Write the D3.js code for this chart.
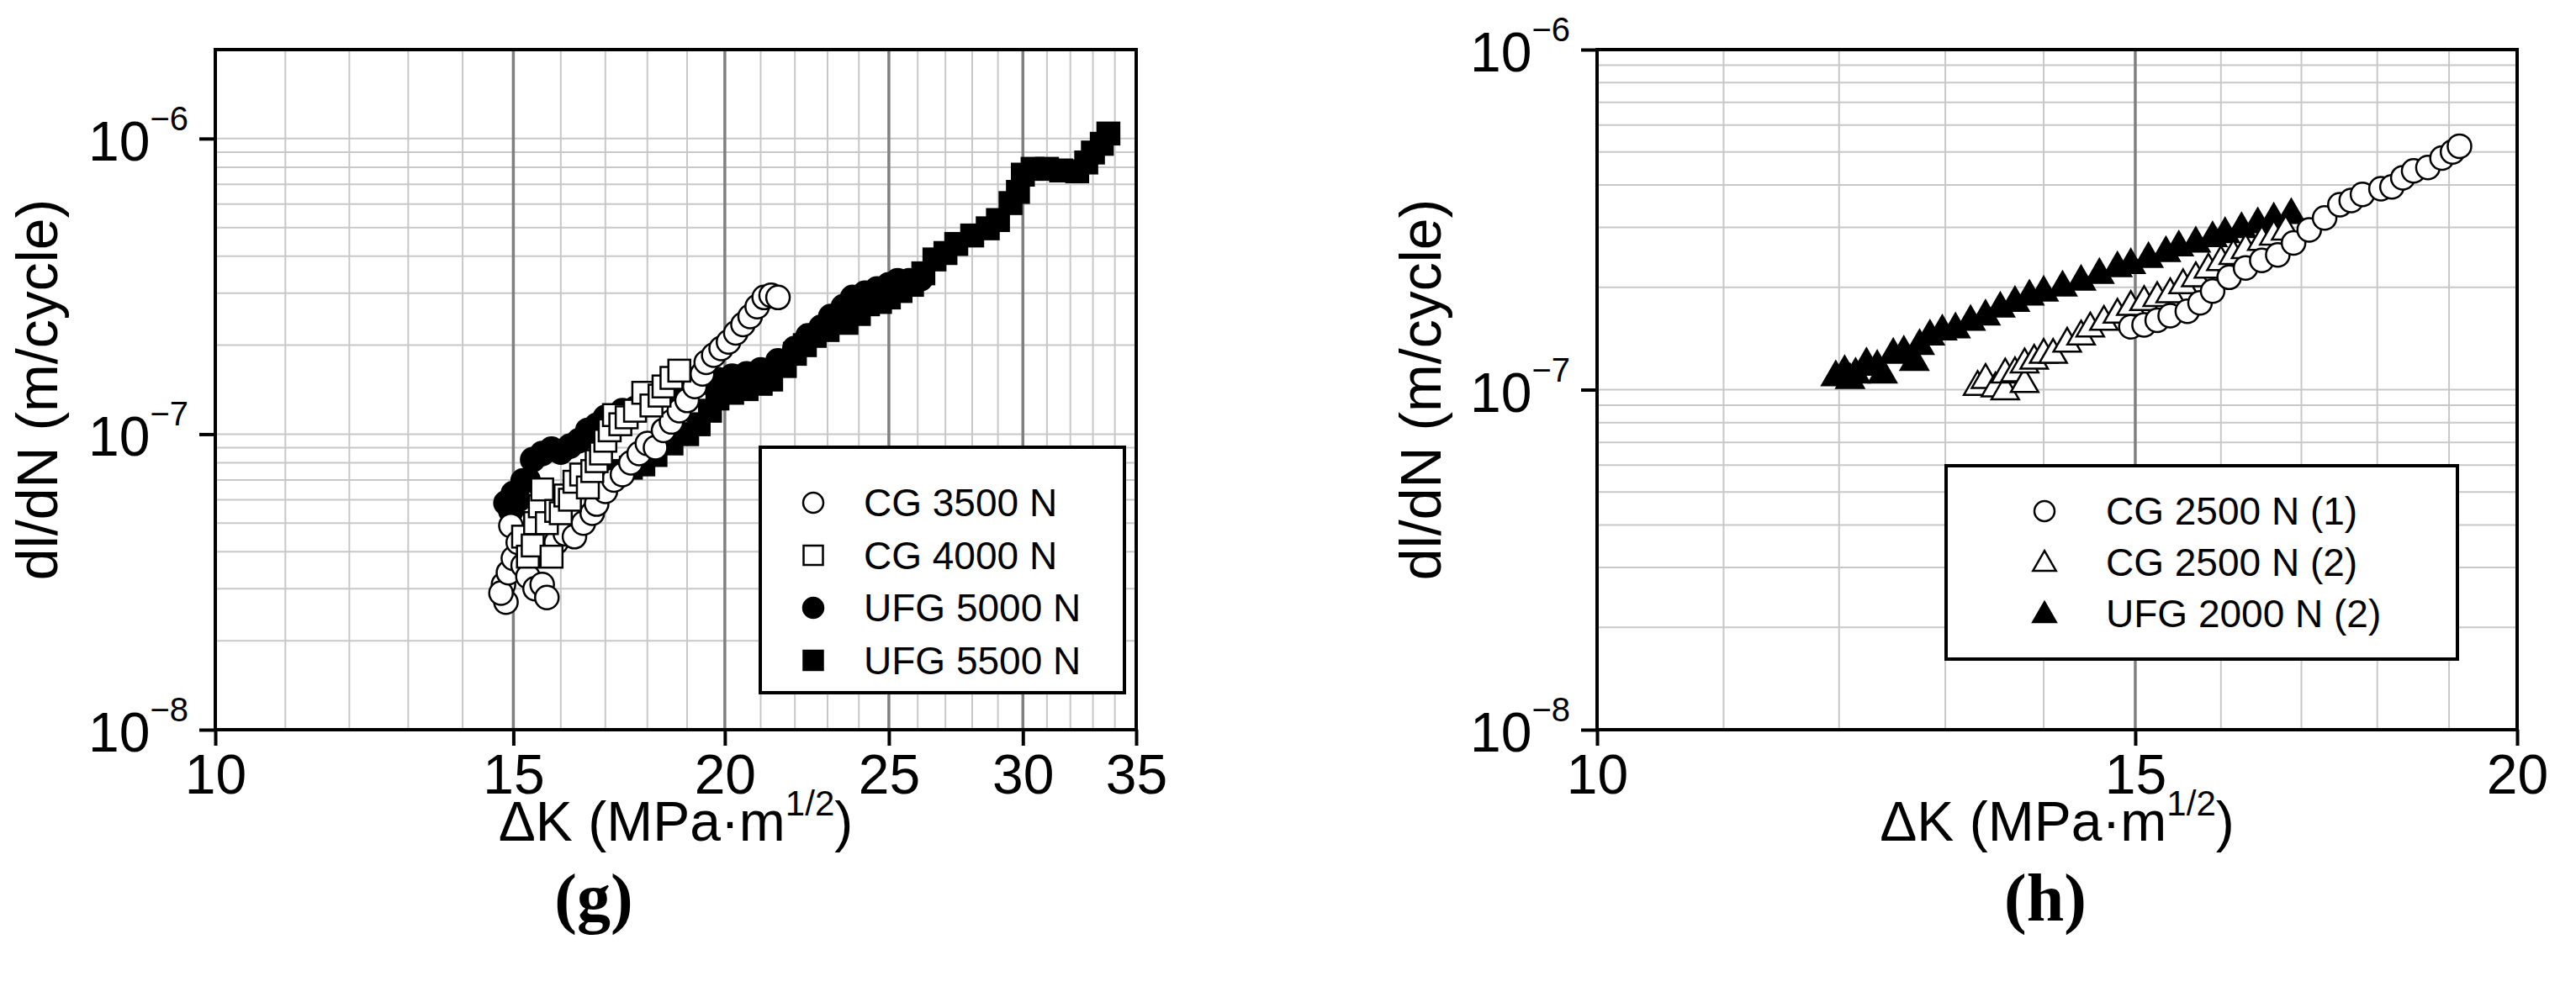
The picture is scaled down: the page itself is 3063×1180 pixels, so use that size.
<!DOCTYPE html>
<html><head><meta charset="utf-8">
<script src="https://cdn.jsdelivr.net/npm/d3@7"></script>
<style>body{margin:0;background:#fff}svg{display:block;font-family:"Liberation Sans",Arial,sans-serif}</style>
</head><body><svg id="c" width="3063" height="1180"></svg>
<script>
// ---- data ----
const gCG3500 = [[14.8,3.1e-8],[14.85,2.7e-8],[14.75,2.9e-8],[14.9,3.4e-8],[15.0,3.8e-8],[14.95,4.9e-8],[15.1,4.3e-8],[15.2,3.6e-8],[15.3,3.3e-8],[15.45,3.0e-8],[15.6,3.1e-8],[15.7,2.8e-8],[15.5,4.4e-8],[15.9,4.3e-8],[16.1,4.6e-8],[16.3,4.5e-8],[16.5,5.0e-8],[16.7,5.4e-8],[16.8,5.8e-8],[17.0,6.4e-8],[17.2,7.0e-8],[17.4,7.3e-8],[17.6,8.0e-8],[17.8,8.6e-8],[18.0,9.3e-8],[18.2,9.0e-8],[18.4,1.03e-7],[18.6,1.1e-7],[18.8,1.2e-7],[19.0,1.3e-7],[19.2,1.45e-7],[19.4,1.6e-7],[19.5,1.75e-7],[19.7,1.85e-7],[19.9,1.95e-7],[20.1,2.05e-7],[20.3,2.2e-7],[20.5,2.35e-7],[20.7,2.5e-7],[20.9,2.7e-7],[21.1,2.9e-7],[21.3,2.95e-7],[21.5,2.9e-7]];
const gCG4000 = [[15.2,4.5e-8],[15.3,3.85e-8],[15.4,4.2e-8],[15.45,5.0e-8],[15.55,5.7e-8],[15.6,6.5e-8],[15.7,5.0e-8],[15.8,3.85e-8],[15.9,5.5e-8],[16.0,5.4e-8],[16.1,6.2e-8],[16.2,6.0e-8],[16.3,6.9e-8],[16.45,7.3e-8],[16.6,6.6e-8],[16.7,7.5e-8],[16.8,8.1e-8],[16.9,8.6e-8],[17.0,9.5e-8],[17.1,1.03e-7],[17.2,1.16e-7],[17.35,1.08e-7],[17.5,1.14e-7],[17.7,1.2e-7],[17.9,1.38e-7],[18.1,1.25e-7],[18.3,1.35e-7],[18.4,1.45e-7],[18.6,1.55e-7],[18.8,1.64e-7]];
const gUFG5000 = [[14.85,5.85e-8],[14.95,5.5e-8],[15.0,6.3e-8],[15.1,6.0e-8],[15.2,6.95e-8],[15.3,7.0e-8],[15.4,8.2e-8],[15.6,8.6e-8],[15.8,8.9e-8],[16.0,8.7e-8],[16.2,9.1e-8],[16.4,9.5e-8],[16.6,1.03e-7],[16.8,1.07e-7],[17.0,1.14e-7],[17.2,1.12e-7],[17.4,1.2e-7],[17.7,1.22e-7],[18.0,1.3e-7],[18.5,1.38e-7],[19.0,1.42e-7],[19.5,1.5e-7],[19.8,1.53e-7],[20.2,1.57e-7],[20.6,1.6e-7],[21.0,1.65e-7],[21.5,1.77e-7],[22.0,1.95e-7],[22.4,2.15e-7],[22.8,2.3e-7],[23.1,2.5e-7],[23.5,2.7e-7],[23.8,2.9e-7],[24.2,3.0e-7],[24.6,3.1e-7],[25.0,3.2e-7],[25.3,3.3e-7],[25.7,3.3e-7],[26.1,3.35e-7]];
const gUFG5500 = [[16.8,7.0e-8],[17.2,7.5e-8],[17.6,7.7e-8],[17.9,7.9e-8],[18.2,8.5e-8],[18.6,9.3e-8],[19.0,1.0e-7],[19.3,1.08e-7],[19.6,1.2e-7],[19.8,1.32e-7],[20.2,1.38e-7],[20.6,1.42e-7],[21.0,1.48e-7],[21.3,1.53e-7],[21.7,1.7e-7],[22.0,1.87e-7],[22.3,2.0e-7],[22.6,2.15e-7],[23.0,2.25e-7],[23.6,2.38e-7],[24.0,2.55e-7],[24.3,2.75e-7],[24.7,2.8e-7],[25.0,2.9e-7],[25.4,3.05e-7],[25.8,3.2e-7],[26.2,3.5e-7],[26.6,3.9e-7],[27.0,4.1e-7],[27.4,4.4e-7],[28.0,4.7e-7],[28.6,4.97e-7],[29.0,5.3e-7],[29.5,6.05e-7],[29.8,6.6e-7],[30.0,7.55e-7],[30.4,7.9e-7],[31.0,7.9e-7],[31.6,7.8e-7],[32.3,7.75e-7],[32.7,8.3e-7],[33.0,8.97e-7],[33.4,9.6e-7],[33.7,1.04e-6]];
const hCG2500_1 = [[14.95,1.53e-7],[15.1,1.55e-7],[15.25,1.6e-7],[15.4,1.65e-7],[15.6,1.7e-7],[15.75,1.8e-7],[15.9,1.95e-7],[16.1,2.14e-7],[16.3,2.28e-7],[16.5,2.4e-7],[16.7,2.49e-7],[16.9,2.7e-7],[17.1,2.95e-7],[17.3,3.2e-7],[17.5,3.5e-7],[17.65,3.6e-7],[17.8,3.75e-7],[18.05,3.9e-7],[18.2,3.95e-7],[18.35,4.2e-7],[18.5,4.4e-7],[18.7,4.5e-7],[18.9,4.8e-7],[19.05,5.0e-7],[19.15,5.2e-7]];
const hCG2500_2 = [[13.32,1.03e-7],[13.4,1.08e-7],[13.5,1.02e-7],[13.6,1.0e-7],[13.6,1.12e-7],[13.7,1.13e-7],[13.8,1.05e-7],[13.8,1.2e-7],[13.9,1.23e-7],[14.0,1.28e-7],[14.1,1.28e-7],[14.25,1.38e-7],[14.4,1.45e-7],[14.5,1.53e-7],[14.65,1.6e-7],[14.8,1.68e-7],[14.95,1.77e-7],[15.1,1.83e-7],[15.25,1.88e-7],[15.4,1.93e-7],[15.55,2.05e-7],[15.7,2.15e-7],[15.85,2.28e-7],[16.0,2.4e-7],[16.15,2.5e-7],[16.3,2.6e-7],[16.5,2.75e-7],[16.65,2.85e-7],[16.8,2.95e-7]];
const hUFG2000_2 = [[11.97,1.10e-7],[12.05,1.14e-7],[12.1,1.08e-7],[12.15,1.12e-7],[12.25,1.2e-7],[12.35,1.18e-7],[12.4,1.12e-7],[12.5,1.28e-7],[12.6,1.3e-7],[12.7,1.22e-7],[12.75,1.36e-7],[12.85,1.45e-7],[12.97,1.5e-7],[13.1,1.52e-7],[13.25,1.6e-7],[13.4,1.66e-7],[13.55,1.75e-7],[13.7,1.82e-7],[13.85,1.9e-7],[14.0,1.95e-7],[14.2,2.02e-7],[14.4,2.1e-7],[14.6,2.2e-7],[14.8,2.3e-7],[14.95,2.35e-7],[15.15,2.45e-7],[15.35,2.55e-7],[15.5,2.65e-7],[15.7,2.72e-7],[15.9,2.82e-7],[16.05,2.9e-7],[16.25,3.0e-7],[16.45,3.1e-7],[16.65,3.2e-7],[16.87,3.3e-7]];
const gXTicks = [10,15,20,25,30,35];
const hXTicks = [10,15,20];
const yTickExp = [-8,-7,-6];
const gLegend = ["CG 3500 N","CG 4000 N","UFG 5000 N","UFG 5500 N"];
const hLegend = ["CG 2500 N (1)","CG 2500 N (2)","UFG 2000 N (2)"];

const svg = d3.select("#c");

function marker(g, type, x, y, s){
  const fill = type.filled ? "#000" : "#fff";
  if(type.shape==="circle") g.append("circle").attr("cx",x).attr("cy",y).attr("r",s/2).attr("fill",fill).attr("stroke","#000").attr("stroke-width",2.5);
  else if(type.shape==="square") g.append("rect").attr("x",x-s/2).attr("y",y-s/2).attr("width",s).attr("height",s).attr("fill",fill).attr("stroke","#000").attr("stroke-width",2.5);
  else g.append("path").attr("d",d3.symbol(d3.symbolTriangle, s*s*0.48)()).attr("transform",`translate(${x},${y+2})`).attr("fill",fill).attr("stroke","#000").attr("stroke-width",2.5);
}

function panel(o){
  const x = d3.scaleLog().domain(o.xd).range([o.l,o.r]);
  const y = d3.scaleLog().domain(o.yd).range([o.b,o.t]);
  const g = svg.append("g");
  const ymin=[]; for(let e=-8;e<=-6;e++) for(let k=1;k<=9;k++){const v=k*Math.pow(10,e); if(v>o.yd[0]&&v<o.yd[1]) ymin.push(v);}
  g.selectAll(null).data(ymin).enter().append("line").attr("x1",o.l).attr("x2",o.r).attr("y1",d=>y(d)).attr("y2",d=>y(d)).attr("stroke","#c8c8c8").attr("stroke-width",2);
  const xmin=d3.range(o.xd[0]+1,o.xd[1]).filter(v=>!o.xt.includes(v));
  g.selectAll(null).data(xmin).enter().append("line").attr("y1",o.t).attr("y2",o.b).attr("x1",d=>x(d)).attr("x2",d=>x(d)).attr("stroke","#c8c8c8").attr("stroke-width",2);
  const xmaj=o.xt.filter(v=>v>o.xd[0]&&v<o.xd[1]);
  g.selectAll(null).data(xmaj).enter().append("line").attr("y1",o.t).attr("y2",o.b).attr("x1",d=>x(d)).attr("x2",d=>x(d)).attr("stroke","#808080").attr("stroke-width",3.5);
  g.append("rect").attr("x",o.l).attr("y",o.t).attr("width",o.r-o.l).attr("height",o.b-o.t).attr("fill","none").attr("stroke","#000").attr("stroke-width",4);
  const xa=g.append("g").attr("transform",`translate(0,${o.b})`).call(d3.axisBottom(x).tickValues(o.xt).tickFormat(d3.format("d")).tickSize(19).tickPadding(10));
  xa.select(".domain").remove();
  xa.selectAll("line").attr("stroke","#000").attr("stroke-width",4);
  xa.selectAll("text").attr("font-size",66).attr("fill","#000").attr("font-family","Liberation Sans, Arial, sans-serif");
  const ya=g.append("g").attr("transform",`translate(${o.l},0)`).call(d3.axisLeft(y).tickValues(yTickExp.map(e=>Math.pow(10,e))).tickFormat("").tickSize(19));
  ya.select(".domain").remove();
  ya.selectAll("line").attr("stroke","#000").attr("stroke-width",4);
  yTickExp.forEach(e=>{
    const t=g.append("text").attr("x",o.l-32).attr("y",y(Math.pow(10,e))+26).attr("text-anchor","end").attr("font-size",66);
    t.append("tspan").text("10");
    t.append("tspan").attr("font-size",40).attr("dy",-36).text("\u2212"+(-e));
  });
  o.series.forEach(s=>{ s.data.forEach(d=>marker(g,s.type,x(d[0]),y(d[1]),s.type.size)); });
  const L=o.leg;
  g.append("rect").attr("x",L.x).attr("y",L.y).attr("width",L.w).attr("height",L.h).attr("fill","#fff").attr("stroke","#000").attr("stroke-width",4);
  o.legNames.forEach((n,i)=>{
    const cy=L.y0+i*L.dy, tp=o.legTypes[i];
    marker(g,tp,L.sx,cy,tp.lsize);
    g.append("text").attr("x",L.tx).attr("y",cy+16).attr("font-size",46).text(n);
  });
  const xt=g.append("text").attr("x",(o.l+o.r)/2).attr("y",1000).attr("text-anchor","middle").attr("font-size",66);
  xt.append("tspan").text("\u0394K (MPa\u00b7m");
  xt.append("tspan").attr("font-size",42).attr("dy",-30).text("1/2");
  xt.append("tspan").attr("dy",30).text(")");
  g.append("text").attr("transform",`translate(${o.yl},${(o.t+o.b)/2}) rotate(-90)`).attr("text-anchor","middle").attr("font-size",68).text("dl/dN (m/cycle)");
  g.append("text").attr("x",o.cap).attr("y",1095).attr("text-anchor","middle").attr("font-size",80).attr("font-weight","bold").attr("font-family","Liberation Serif, Times New Roman, serif").text(o.label);
}

const T={oc:{shape:"circle",filled:false,size:28,lsize:24},os:{shape:"square",filled:false,size:26,lsize:23},fc:{shape:"circle",filled:true,size:28,lsize:24},fs:{shape:"square",filled:true,size:26,lsize:23},ot:{shape:"tri",filled:false,size:31,lsize:26},ft:{shape:"tri",filled:true,size:31,lsize:26}};

panel({xd:[10,35],yd:[1e-8,2e-6],l:256,r:1351,t:59,b:868,xt:gXTicks,yl:68,cap:706,label:"(g)",
  series:[{data:gUFG5000,type:T.fc},{data:gUFG5500,type:T.fs},{data:gCG3500,type:T.oc},{data:gCG4000,type:T.os}],
  leg:{x:904,y:532,w:433,h:292,y0:598,dy:62.5,sx:967,tx:1027},legNames:gLegend,legTypes:[T.oc,T.os,T.fc,T.fs]});
panel({xd:[10,20],yd:[1e-8,1e-6],l:1899,r:2993,t:59,b:868,xt:hXTicks,yl:1713,cap:2432,label:"(h)",
  series:[{data:hUFG2000_2,type:T.ft},{data:hCG2500_2,type:T.ot},{data:hCG2500_1,type:T.oc}],
  leg:{x:2314,y:554,w:608,h:230,y0:608,dy:61,sx:2431,tx:2504},legNames:hLegend,legTypes:[T.oc,T.ot,T.ft]});
</script></body></html>
